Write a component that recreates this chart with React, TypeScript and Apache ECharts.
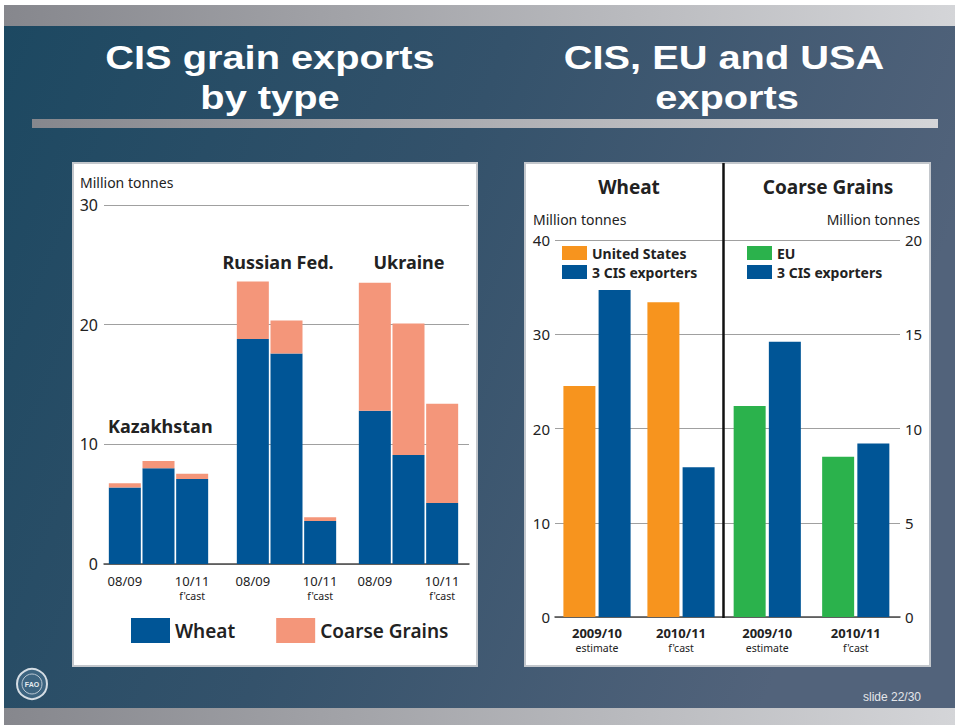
import React, { useEffect, useRef } from 'react';
import * as echarts from 'echarts';

// ---- Left chart data: CIS grain exports by type (million tonnes) ----
const cisYears = ['08/09', '09/10', '10/11'];
const forecastYear = '10/11';
const countries = ['Kazakhstan', 'Russian Fed.', 'Ukraine'];
const kazWheat = [6.4, 8.0, 7.1];
const kazCoarse = [0.35, 0.6, 0.45];
const rusWheat = [18.8, 17.6, 3.6];
const rusCoarse = [4.8, 2.75, 0.3];
const ukrWheat = [12.8, 9.1, 5.1];
const ukrCoarse = [10.7, 11.0, 8.3];
const leftMax = 30;
const leftStep = 10;

// ---- Right chart data: CIS, EU and USA exports (million tonnes) ----
const seasons = ['2009/10', '2010/11'];
const seasonNotes = ['estimate', "f'cast"];
const wheatUS = [24.5, 33.4];
const wheatCIS = [34.7, 15.9];
const coarseEU = [11.2, 8.5];
const coarseCIS = [14.6, 9.2];
const wheatMax = 40;
const wheatStep = 10;
const coarseMax = 20;
const coarseStep = 5;

const BLUE = '#005596';
const SALMON = '#F4967A';
const ORANGE = '#F7941E';
const GREEN = '#2BB24C';
const FONT = 'Noto Sans';
const TITLE_FONT = 'Liberation Sans';

export default function App() {
  const ref = useRef<HTMLDivElement>(null);

  useEffect(() => {
    if (!ref.current) return;
    const chart = echarts.init(ref.current, null, { renderer: 'svg' });

    const countryWheat = [kazWheat, rusWheat, ukrWheat];
    const countryCoarse = [kazCoarse, rusCoarse, ukrCoarse];
    const countryGridLeft = [108, 236, 358];

    const grids: any[] = [
      { left: 104, top: 205, width: 365, height: 359 },
      ...countryGridLeft.map((l) => ({ left: l, top: 205, width: 101, height: 359 })),
      { left: 555, top: 240, width: 168, height: 377 },
      { left: 723, top: 240, width: 177, height: 377 },
    ];

    const leftLabel = (v: string, i: number) => {
      if (i === 0) return `{a|${v}}`;
      if (v === forecastYear) return `{a|${v}}\n{b|f'cast}`;
      return '';
    };

    const xAxes: any[] = [
      {
        gridIndex: 0, type: 'category', data: [''],
        axisLine: { show: true, lineStyle: { color: '#4a4a4a', width: 1.5 } },
        axisTick: { show: false }, axisLabel: { show: false },
      },
      ...[1, 2, 3].map((g) => ({
        gridIndex: g, type: 'category', data: cisYears,
        axisLine: { show: false }, axisTick: { show: false },
        axisLabel: {
          interval: 0, margin: 8, formatter: leftLabel,
          rich: {
            a: { fontFamily: FONT, fontSize: 13, color: '#222', lineHeight: 17 },
            b: { fontFamily: FONT, fontSize: 10.5, color: '#222', lineHeight: 14 },
          },
        },
      })),
      ...[4, 5].map((g) => ({
        gridIndex: g, type: 'category', data: seasons,
        axisLine: { show: true, lineStyle: { color: '#4a4a4a', width: 1.5 } },
        axisTick: { show: false },
        axisLabel: {
          interval: 0, margin: 7,
          formatter: (v: string, i: number) => `{a|${v}}\n{b|${seasonNotes[i]}}`,
          rich: {
            a: { fontFamily: FONT, fontSize: 13, fontWeight: 'bold', color: '#222', lineHeight: 17 },
            b: { fontFamily: FONT, fontSize: 10.5, color: '#222', lineHeight: 14 },
          },
        },
      })),
    ];

    const splitLine = { show: true, lineStyle: { color: '#a0a0a0', width: 1 } };
    const yAxes: any[] = [
      {
        gridIndex: 0, type: 'value', min: 0, max: leftMax, interval: leftStep,
        axisLine: { show: false }, axisTick: { show: false }, splitLine,
        axisLabel: { fontFamily: FONT, fontSize: 16, color: '#222', margin: 6 },
      },
      ...[1, 2, 3].map((g) => ({
        gridIndex: g, type: 'value', min: 0, max: leftMax, show: false, splitLine: { show: false },
      })),
      {
        gridIndex: 4, type: 'value', min: 0, max: wheatMax, interval: wheatStep,
        axisLine: { show: false }, axisTick: { show: false }, splitLine,
        axisLabel: { fontFamily: FONT, fontSize: 15, color: '#222', margin: 5 },
      },
      {
        gridIndex: 5, type: 'value', position: 'right', min: 0, max: coarseMax, interval: coarseStep,
        axisLine: { show: false }, axisTick: { show: false }, splitLine,
        axisLabel: { fontFamily: FONT, fontSize: 15, color: '#222', margin: 5 },
      },
    ];

    const series: any[] = [];
    [0, 1, 2].forEach((c) => {
      series.push({
        type: 'bar', name: 'Wheat', xAxisIndex: c + 1, yAxisIndex: c + 1, stack: 'c' + c,
        barWidth: 32, data: countryWheat[c], itemStyle: { color: BLUE },
      });
      series.push({
        type: 'bar', name: 'Coarse Grains', xAxisIndex: c + 1, yAxisIndex: c + 1, stack: 'c' + c,
        barWidth: 32, data: countryCoarse[c], itemStyle: { color: SALMON },
      });
    });
    series.push(
      { type: 'bar', name: 'United States', xAxisIndex: 4, yAxisIndex: 4, barWidth: 32, barGap: '10%', data: wheatUS, itemStyle: { color: ORANGE } },
      { type: 'bar', name: '3 CIS exporters', xAxisIndex: 4, yAxisIndex: 4, barWidth: 32, barGap: '10%', data: wheatCIS, itemStyle: { color: BLUE } },
      { type: 'bar', name: 'EU', xAxisIndex: 5, yAxisIndex: 5, barWidth: 32, barGap: '10%', data: coarseEU, itemStyle: { color: GREEN } },
      { type: 'bar', name: '3 CIS exporters', xAxisIndex: 5, yAxisIndex: 5, barWidth: 32, barGap: '10%', data: coarseCIS, itemStyle: { color: BLUE } },
    );

    const grayGrad = () => new echarts.graphic.LinearGradient(0, 0, 1, 0, [
      { offset: 0, color: '#86878d' },
      { offset: 1, color: '#d4d5d8' },
    ]);

    const txt = (text: string, x: number, y: number, extra: any = {}, el: any = {}) => ({
      type: 'text', x, y, z: 100, ...el,
      style: {
        text, fontFamily: FONT, fontSize: 14, fill: '#222',
        textAlign: 'left', textVerticalAlign: 'middle', ...extra,
      },
    });

    const titleStyle = {
      fontFamily: TITLE_FONT, fontSize: 34, fontWeight: 'bold',
      fill: '#ffffff', textAlign: 'center',
    };
    const titleScale = { scaleX: 1.17 };

    const graphic: any[] = [
      { type: 'rect', z: -20, shape: { x: 0, y: 0, width: 955, height: 725 }, style: { fill: '#ffffff' } },
      {
        type: 'rect', z: -19, shape: { x: 4, y: 5, width: 951, height: 720 },
        style: {
          fill: new echarts.graphic.LinearGradient(0, 0, 1, 0.3, [
            { offset: 0, color: '#1c4861' },
            { offset: 0.5, color: '#34526b' },
            { offset: 1, color: '#52637b' },
          ]),
        },
      },
      { type: 'rect', z: -18, shape: { x: 4, y: 5, width: 951, height: 21 }, style: { fill: grayGrad() } },
      { type: 'rect', z: -18, shape: { x: 4, y: 708, width: 951, height: 17 }, style: { fill: grayGrad() } },
      { type: 'rect', z: -18, shape: { x: 32, y: 119, width: 906, height: 9 }, style: { fill: grayGrad() } },
      { type: 'rect', z: -17, shape: { x: 73, y: 163, width: 404, height: 503 }, style: { fill: '#ffffff', stroke: '#c3c7cc', lineWidth: 2 } },
      { type: 'rect', z: -17, shape: { x: 525, y: 163, width: 405, height: 503 }, style: { fill: '#ffffff', stroke: '#c3c7cc', lineWidth: 2 } },
      // titles
      txt('CIS grain exports', 270, 57.5, titleStyle, titleScale),
      txt('by type', 270, 98, titleStyle, titleScale),
      txt('CIS, EU and USA', 724, 57.5, titleStyle, titleScale),
      txt('exports', 727, 98, titleStyle, titleScale),
      // left panel texts
      txt('Million tonnes', 80, 182, { fontSize: 14 }),
      txt(countries[0], 108, 426, { fontSize: 18, fontWeight: 'bold' }),
      txt(countries[1], 278, 262, { fontSize: 18, fontWeight: 'bold', textAlign: 'center' }),
      txt(countries[2], 409, 262, { fontSize: 18, fontWeight: 'bold', textAlign: 'center' }),
      // right panel texts
      txt('Wheat', 629, 187, { fontSize: 19, fontWeight: 'bold', textAlign: 'center' }),
      txt('Coarse Grains', 828, 187, { fontSize: 19, fontWeight: 'bold', textAlign: 'center' }),
      txt('Million tonnes', 533, 219, { fontSize: 14 }),
      txt('Million tonnes', 920, 219, { fontSize: 14, textAlign: 'right' }),
      { type: 'line', z: 100, shape: { x1: 723.5, y1: 163, x2: 723.5, y2: 618 }, style: { stroke: '#111', lineWidth: 2.5 } },
      // logo and slide number
      { type: 'circle', z: 100, shape: { cx: 32, cy: 684, r: 15 }, style: { fill: '#3d6480', stroke: '#d5dde4', lineWidth: 2 } },
      { type: 'circle', z: 101, shape: { cx: 32, cy: 684, r: 10 }, style: { fill: 'none', stroke: '#b8c6d2', lineWidth: 1 } },
      txt('FAO', 32, 684, { fontFamily: TITLE_FONT, fontSize: 7, fontWeight: 'bold', fill: '#e6ecf0', textAlign: 'center' }),
      txt('slide 22/30', 892, 697, { fontFamily: TITLE_FONT, fontSize: 12, fill: '#e4e6ea', textAlign: 'center' }),
    ];

    chart.setOption({
      animation: false,
      textStyle: { fontFamily: FONT },
      grid: grids,
      xAxis: xAxes,
      yAxis: yAxes,
      series,
      legend: [
        {
          data: ['Wheat', 'Coarse Grains'], left: 131, top: 618, padding: 0, icon: 'rect',
          itemWidth: 39, itemHeight: 25, itemGap: 41, itemTextGap: 7, selectedMode: false,
          textStyle: { fontFamily: FONT, fontSize: 19, fontWeight: 600, color: '#222' },
        },
        {
          data: ['United States', '3 CIS exporters'], orient: 'vertical', left: 562, top: 246, padding: 0, icon: 'rect',
          itemWidth: 25, itemHeight: 14, itemGap: 5, selectedMode: false,
          textStyle: { fontFamily: FONT, fontSize: 14, fontWeight: 'bold', color: '#222' },
        },
        {
          data: ['EU', '3 CIS exporters'], orient: 'vertical', left: 747, top: 246, padding: 0, icon: 'rect',
          itemWidth: 25, itemHeight: 14, itemGap: 5, selectedMode: false,
          textStyle: { fontFamily: FONT, fontSize: 14, fontWeight: 'bold', color: '#222' },
        },
      ],
      graphic,
    });

    return () => chart.dispose();
  }, []);

  return (
    <div
      ref={ref}
      style={{ position: 'absolute', left: 0, top: 0, width: 955, height: 725 }}
    />
  );
}
